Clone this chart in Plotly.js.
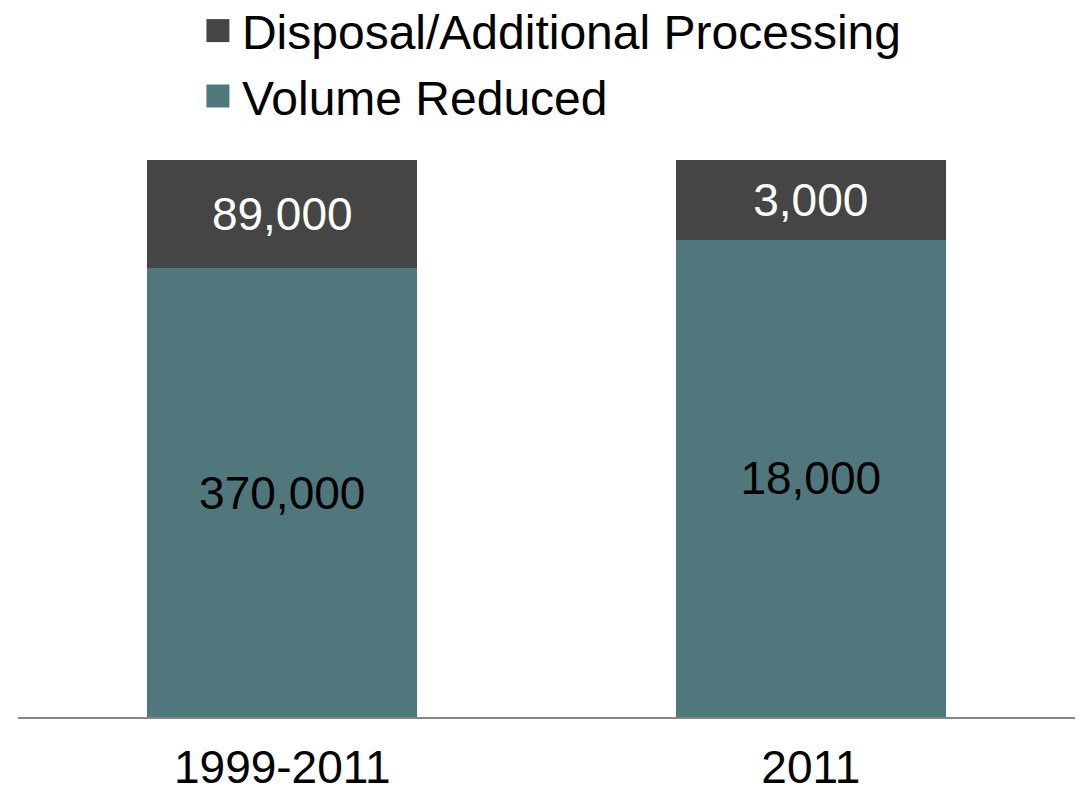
<!DOCTYPE html>
<html>
<head>
<meta charset="utf-8">
<script src="https://cdn.plot.ly/plotly-3.0.1.min.js"></script>
<style>html,body{margin:0;padding:0;background:#fff;}#chart{width:1080px;height:794px;}</style>
</head>
<body>
<div id="chart"></div>
<script>
const categories = ["1999-2011", "2011"];
const volumeReduced = [370000, 18000];
const disposal = [89000, 3000];
const seriesNames = ["Volume Reduced", "Disposal/Additional Processing"];

const fmt = v => v.toLocaleString("en-US");
const FONT = "Liberation Sans, Arial, sans-serif";

const traces = [
  {
    type: "bar", name: seriesNames[0], x: categories, y: volumeReduced,
    text: volumeReduced.map(fmt), textposition: "inside", insidetextanchor: "middle",
    textfont: {size: 46, color: "#000000", family: FONT},
    marker: {color: "#50777B"}, legendgroup: "a", hoverinfo: "skip"
  },
  {
    type: "bar", name: seriesNames[1], x: categories, y: disposal,
    text: disposal.map(fmt), textposition: "inside", insidetextanchor: "middle",
    textfont: {size: 46, color: "#ffffff", family: FONT},
    marker: {color: "#454545"}, legendgroup: "b", hoverinfo: "skip"
  }
];

const layout = {
  width: 1080, height: 794,
  margin: {l: 18, r: 5, t: 160, b: 77, autoexpand: false},
  barmode: "stack", barnorm: "percent", bargap: 0.49,
  paper_bgcolor: "#ffffff", plot_bgcolor: "#ffffff",
  font: {family: FONT, color: "#000000"},
  showlegend: true,
  legend: {
    x: 0.174, xanchor: "left", y: 1.30, yanchor: "top",
    orientation: "v", traceorder: "reversed", tracegroupgap: 13,
    font: {size: 48, color: "#000000", family: FONT},
    bgcolor: "rgba(0,0,0,0)"
  },
  xaxis: {
    type: "category",
    showline: true, linecolor: "#868686", linewidth: 2,
    showgrid: false, zeroline: false, ticks: "",
    ticklabelstandoff: 9,
    tickfont: {size: 46, color: "#000000", family: FONT},
    fixedrange: true
  },
  yaxis: {
    range: [0, 100], visible: false, showgrid: false, zeroline: false, fixedrange: true
  }
};

Plotly.newPlot("chart", traces, layout, {displayModeBar: false, staticPlot: true}).then(() => {
  document.querySelectorAll("#chart .legend .legendpoints path").forEach(p => {
    p.setAttribute("d", "M7.5,11.5H-15.5V-11.5H7.5Z");
    p.style.strokeWidth = "0px";
  });
});
</script>
</body>
</html>
